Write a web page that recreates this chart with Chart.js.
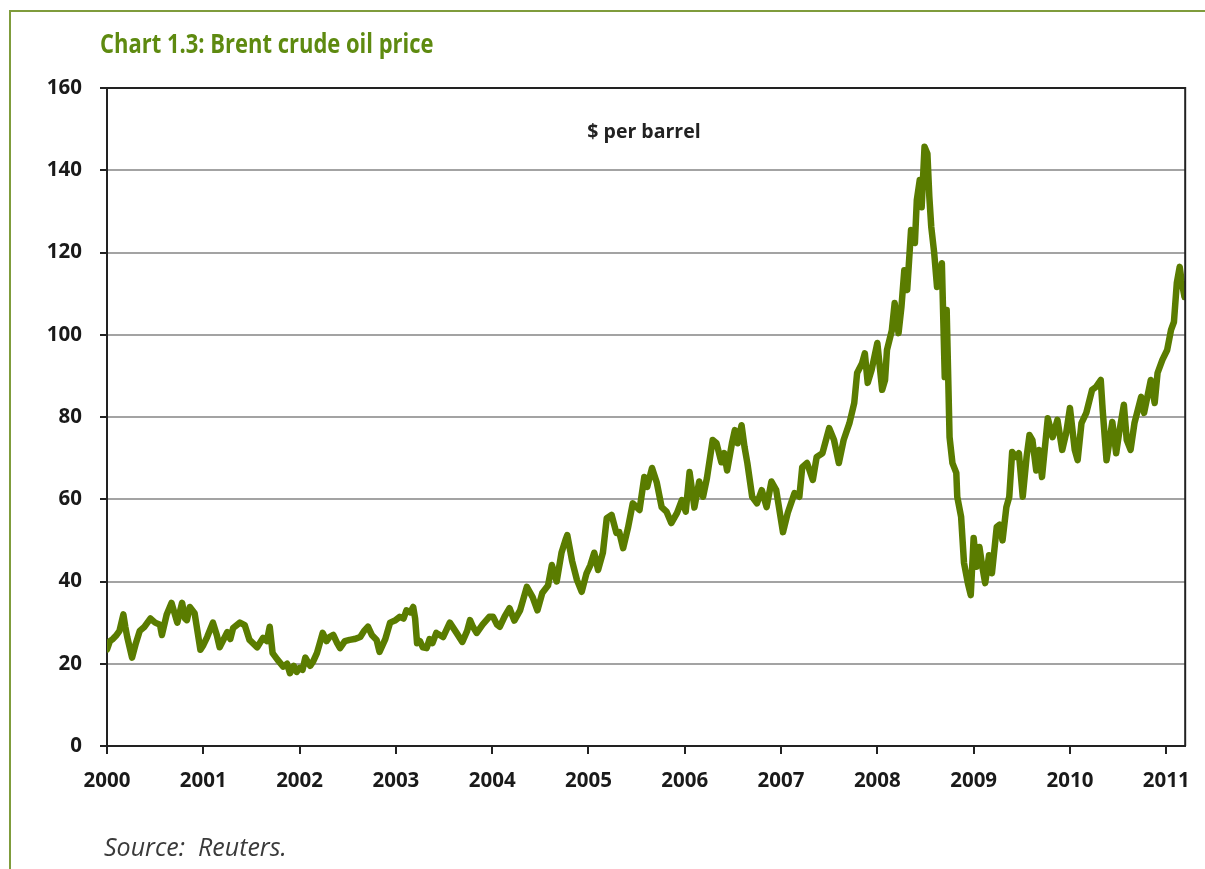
<!DOCTYPE html>
<html>
<head>
<meta charset="utf-8">
<script src="https://cdn.jsdelivr.net/npm/chart.js@4.4.1/dist/chart.umd.min.js"></script>
<style>
    body { margin: 0; background: #fff; }
    #wrap { position: relative; width: 1205px; height: 869px; overflow: hidden; }
    #frame { position: absolute; left: 9px; top: 10px; width: 1210px; height: 870px;
             border-left: 2px solid #7f9c3c; border-top: 2px solid #7f9c3c; }
    #title { position: absolute; left: 100px; top: 25px; font-family: "Open Sans", sans-serif;
             font-weight: bold; font-size: 26px; color: #5e8a10; white-space: nowrap;
             transform: scaleX(0.845); transform-origin: left top; }
    #unit { position: absolute; left: 0; width: 1288px; top: 117px; text-align: center;
            font-family: "Open Sans", sans-serif; font-weight: bold; font-size: 19.5px; color: #222; }
    #source { position: absolute; left: 104px; top: 829px; font-family: "Open Sans", sans-serif;
              font-style: italic; font-size: 25px; color: #3a3a3a; white-space: nowrap; }
    canvas { position: absolute; left: 0; top: 0; }
</style>
</head>
<body>
<div id="wrap">
    <div id="frame"></div>
    <canvas id="oilChart" width="1205" height="869"></canvas>
    <div id="title">Chart 1.3: Brent crude oil price</div>
    <div id="unit">$ per barrel</div>
    <div id="source">Source:&nbsp; Reuters.</div>
</div>
<script>
// Brent, $ per barrel (decimal years)
const years = [
    2000.00, 2000.03, 2000.06, 2000.10, 2000.13, 2000.17, 2000.19, 2000.21, 2000.26, 2000.30,
    2000.34, 2000.39, 2000.45, 2000.50, 2000.55, 2000.57, 2000.62, 2000.67, 2000.73, 2000.78,
    2000.81, 2000.83, 2000.86, 2000.91, 2000.97,
    2001.00, 2001.04, 2001.10, 2001.14, 2001.17, 2001.25, 2001.28, 2001.31, 2001.38, 2001.43,
    2001.48, 2001.56, 2001.62, 2001.66, 2001.69, 2001.72, 2001.77, 2001.83, 2001.87, 2001.90,
    2001.94, 2001.97,
    2002.00, 2002.03, 2002.06, 2002.11, 2002.14, 2002.18, 2002.21, 2002.24, 2002.28, 2002.31,
    2002.35, 2002.39, 2002.42, 2002.47, 2002.52, 2002.57, 2002.63, 2002.67, 2002.71, 2002.75,
    2002.80, 2002.83, 2002.89, 2002.94, 2002.99,
    2003.04, 2003.08, 2003.11, 2003.15, 2003.18, 2003.20, 2003.22, 2003.25, 2003.28, 2003.32,
    2003.35, 2003.38, 2003.42, 2003.49, 2003.56, 2003.63, 2003.69, 2003.74, 2003.77, 2003.80,
    2003.84, 2003.90, 2003.97,
    2004.01, 2004.05, 2004.08, 2004.13, 2004.18, 2004.23, 2004.29, 2004.36, 2004.42, 2004.47,
    2004.52, 2004.58, 2004.62, 2004.67, 2004.72, 2004.76, 2004.78, 2004.83, 2004.88, 2004.93,
    2004.98,
    2005.02, 2005.06, 2005.10, 2005.15, 2005.19, 2005.24, 2005.29, 2005.32, 2005.36, 2005.41,
    2005.46, 2005.53, 2005.58, 2005.61, 2005.66, 2005.71, 2005.76, 2005.81, 2005.86, 2005.92,
    2005.97,
    2006.01, 2006.05, 2006.10, 2006.15, 2006.19, 2006.23, 2006.29, 2006.33, 2006.38, 2006.41,
    2006.44, 2006.49, 2006.52, 2006.55, 2006.59, 2006.62, 2006.65, 2006.70, 2006.75, 2006.80,
    2006.85, 2006.90, 2006.95,
    2007.02, 2007.07, 2007.14, 2007.19, 2007.22, 2007.27, 2007.33, 2007.37, 2007.43, 2007.50,
    2007.55, 2007.60, 2007.65, 2007.71, 2007.76, 2007.79, 2007.84, 2007.87, 2007.90, 2007.94,
    2008.00, 2008.05, 2008.08, 2008.10, 2008.15, 2008.18, 2008.22, 2008.25, 2008.28, 2008.31,
    2008.35, 2008.39, 2008.41, 2008.44, 2008.46, 2008.49, 2008.52, 2008.54, 2008.56, 2008.59,
    2008.62, 2008.67, 2008.70, 2008.72, 2008.75, 2008.78, 2008.82, 2008.83, 2008.87, 2008.90,
    2008.94, 2008.97,
    2009.00, 2009.03, 2009.06, 2009.09, 2009.12, 2009.16, 2009.19, 2009.24, 2009.27, 2009.30,
    2009.34, 2009.37, 2009.40, 2009.44, 2009.47, 2009.51, 2009.55, 2009.58, 2009.61, 2009.65,
    2009.68, 2009.71, 2009.77, 2009.82, 2009.87, 2009.92, 2009.96,
    2010.00, 2010.05, 2010.08, 2010.12, 2010.17, 2010.23, 2010.27, 2010.32, 2010.34, 2010.38,
    2010.44, 2010.48, 2010.51, 2010.56, 2010.59, 2010.63, 2010.67, 2010.74, 2010.77, 2010.84,
    2010.88, 2010.91, 2010.96,
    2011.01, 2011.05, 2011.08, 2011.11, 2011.14, 2011.16, 2011.19
];
const prices = [
    23.5, 25.5, 26.0, 27.0, 28.0, 32.0, 29.0, 26.5, 21.5, 25.0,
    28.0, 29.0, 31.0, 30.0, 29.5, 27.0, 32.0, 34.8, 30.0, 34.8,
    31.0, 30.6, 33.8, 32.3, 23.4,
    24.5, 26.5, 30.0, 27.0, 24.0, 27.7, 26.0, 28.7, 30.0, 29.4,
    25.8, 24.0, 26.3, 25.5, 29.0, 22.6, 21.0, 19.3, 20.0, 17.7,
    19.5, 18.0,
    19.0, 18.5, 21.5, 19.5, 20.5, 22.6, 25.0, 27.5, 25.5, 26.5,
    27.0, 25.0, 23.8, 25.5, 25.8, 26.0, 26.5, 28.0, 29.0, 27.0,
    25.8, 22.9, 26.0, 30.0, 30.5,
    31.4, 31.0, 33.0, 32.5, 33.8, 31.0, 25.0, 25.5, 24.0, 23.8,
    26.0, 25.0, 27.5, 26.5, 30.0, 27.5, 25.3, 28.0, 30.6, 29.0,
    27.5, 29.5, 31.4,
    31.4, 29.5, 29.0, 31.5, 33.5, 30.5, 33.0, 38.7, 36.2, 33.0,
    37.2, 39.0, 44.0, 40.0, 47.0, 50.0, 51.3, 45.0, 40.4, 37.5,
    42.0,
    44.0, 47.0, 42.8, 47.0, 55.4, 56.2, 51.8, 52.0, 48.1, 53.0,
    59.0, 57.4, 65.4, 63.0, 67.6, 64.0, 58.1, 57.0, 54.2, 56.7,
    59.8,
    57.0, 66.6, 58.0, 64.3, 60.6, 65.1, 74.4, 73.6, 69.0, 71.2,
    67.0, 73.6, 76.8, 73.6, 78.0, 72.8, 68.8, 60.6, 59.0, 62.2,
    58.1, 64.3, 62.2,
    52.0, 56.7, 61.5, 60.6, 67.8, 68.8, 64.7, 70.3, 71.2, 77.3,
    74.4, 68.8, 74.4, 78.5, 83.4, 90.7, 93.0, 95.5, 88.3, 91.4,
    98.0, 86.6, 89.0, 96.3, 101.0, 107.7, 100.4, 106.7, 115.7, 110.9,
    125.5, 122.3, 132.8, 137.6, 131.0, 145.7, 144.0, 133.5, 126.2, 120.0,
    111.6, 117.4, 89.7, 106.0, 75.1, 68.8, 66.4, 60.6, 55.7, 44.5,
    39.6, 36.7,
    50.6, 43.6, 48.4, 43.6, 39.6, 46.4, 42.0, 53.3, 53.8, 50.0,
    58.1, 60.6, 71.5, 70.3, 71.2, 60.6, 70.3, 75.6, 74.4, 67.0,
    72.0, 65.4, 79.7, 75.1, 79.3, 72.0, 76.0,
    82.2, 72.0, 69.5, 78.5, 81.0, 86.6, 87.3, 89.0, 81.7, 69.5,
    78.8, 71.2, 76.0, 83.0, 74.4, 72.0, 78.5, 84.9, 81.0, 89.0,
    83.4, 90.7, 93.9,
    96.3, 101.2, 103.1, 112.6, 116.5, 113.0, 109.2
];
const yearTicks = [2000, 2001, 2002, 2003, 2004, 2005, 2006, 2007, 2008, 2009, 2010, 2011];
const priceTicks = [0, 20, 40, 60, 80, 100, 120, 140, 160];

const lineColor = "#5a7c00";
const tickFont = { family: "'Open Sans', sans-serif", size: 20.5, weight: "bold" };

// top and right edges of the plot box
const boxPlugin = {
    id: "box",
    afterDraw(chart) {
        const a = chart.chartArea;
        const ctx = chart.ctx;
        ctx.save();
        ctx.strokeStyle = "#222";
        ctx.lineWidth = 2;
        ctx.beginPath();
        ctx.moveTo(a.left, a.top);
        ctx.lineTo(a.right, a.top);
        ctx.lineTo(a.right, a.bottom);
        ctx.stroke();
        ctx.restore();
    },
};

const oilCtx = document.getElementById("oilChart");
new Chart(oilCtx.getContext("2d"), {
    type: "line",
    data: {
        datasets: [
            {
                data: years.map((y, i) => ({ x: y, y: prices[i] })),
                borderColor: lineColor,
                borderWidth: 6.5,
                pointRadius: 0,
                tension: 0,
                borderJoinStyle: "round",
                borderCapStyle: "round",
            },
        ],
    },
    options: {
        responsive: false,
        animation: false,
        layout: { padding: { top: 88, right: 19, left: 0, bottom: 0 } },
        plugins: {
            legend: { display: false },
            tooltip: { enabled: false },
        },
        scales: {
            x: {
                type: "linear",
                min: 2000,
                max: 2011.197,
                afterBuildTicks: (s) => { s.ticks = yearTicks.map((v) => ({ value: v })); },
                afterFit: (s) => { s.height = 123; },
                ticks: {
                    callback: (v) => String(v),
                    color: "#1a1a1a",
                    font: tickFont,
                    padding: 15,
                    maxRotation: 0,
                    autoSkip: false,
                },
                grid: { drawOnChartArea: false, tickLength: 8, tickColor: "#222", lineWidth: 2 },
                border: { color: "#222", width: 2 },
            },
            y: {
                min: 0,
                max: 160,
                afterBuildTicks: (s) => { s.ticks = priceTicks.map((v) => ({ value: v })); },
                afterFit: (s) => { s.width = 107; },
                ticks: {
                    color: "#1a1a1a",
                    font: tickFont,
                    padding: 18,
                },
                grid: { color: "#a3a3a3", lineWidth: 2, tickLength: 7, tickColor: "#222" },
                border: { color: "#222", width: 2 },
            },
        },
    },
    plugins: [boxPlugin],
});
</script>
</body>
</html>
